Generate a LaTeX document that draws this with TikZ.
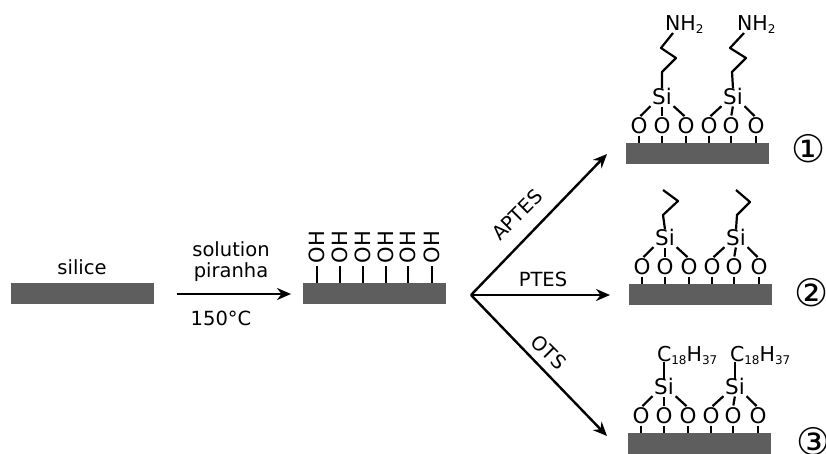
\documentclass[tikz,border=0pt]{standalone}
\usepackage{fontspec}
\usetikzlibrary{arrows.meta}
\setmainfont{DejaVu Sans}
\newcommand{\subnum}[1]{\raisebox{-3pt}{\fontsize{12}{12}\selectfont #1}}
\tikzset{
  every node/.style={inner sep=0pt,outer sep=0pt},
  slab/.style={fill=black!63,minimum width=143pt,minimum height=21pt},
  lbl/.style={font=\fontsize{19.5}{20}\selectfont},
  atom/.style={font=\fontsize{21.5}{22}\selectfont,text height=15pt,text depth=0pt,inner sep=0.5pt,outer sep=0.5pt},
  formula/.style={font=\fontsize{20.5}{21}\selectfont,anchor=west,text height=15pt,text depth=0pt},
  oh/.style={font=\fontsize{21}{21}\selectfont,rotate=90,text height=15pt,text depth=0pt},
  bond/.style={line width=2.2pt,black},
  gapped/.style={bond,shorten <=1pt,shorten >=2pt},
  reaction/.style={line width=2.4pt,-{Stealth[length=14pt,width=12pt]}},
  num/.style={font=\fontsize{38}{38}\selectfont},
}
\newcommand{\oxy}[4]{% name, x, y, slab
  \node[atom] (#1) at (#2,#3) {O};
  \draw[bond,shorten <=1pt] (#1.south) -- (#1.south |- #4.north);}
\newcommand{\silane}[7]{% id, six, siy, ox1, ox2, ox3, slab
  \node[atom] (#1s) at (#2,#3) {Si};
  \oxy{#1a}{#4}{#3+29}{#7}
  \oxy{#1b}{#5}{#3+29}{#7}
  \oxy{#1c}{#6}{#3+29}{#7}
  \draw[gapped] (#1s.south west) -- (#1a.north);
  \draw[gapped] (#1s.south) -- (#1b.north);
  \draw[gapped] (#1s.south east) -- (#1c.north);}
\newcommand{\hydroxyl}[3]{% name, x, slab
  \node[oh] (#1) at (#2,247) {OH};
  \draw[bond] (#1.west |- 0,266) -- (#1.west |- #3.north);}
\begin{document}
\begin{tikzpicture}[x=1pt,y=-1pt]
\useasboundingbox (0,0) rectangle (826,453);
% left: silica
\node[slab] (s0) at (82.5,293.5) {};
\node[lbl] (silice) at (82,267) {silice};
\node[lbl] (sol) at (231,249) {solution};
\node[lbl] (pir) at (231,272) {piranha};
\node[lbl] (temp) at (221,318) {150°C};
\coordinate (a0) at (177,294);
\coordinate (a1) at (291,294);
\draw[reaction] (a0) -- (a1);
% hydroxylated
\node[slab] (s1) at (374.5,293.5) {};
\hydroxyl{h1}{317}{s1}
\hydroxyl{h2}{340}{s1}
\hydroxyl{h3}{363}{s1}
\hydroxyl{h4}{386}{s1}
\hydroxyl{h5}{408}{s1}
\hydroxyl{h6}{432}{s1}
% branches
\coordinate (hub) at (471,295);
\coordinate (e1) at (607,154);
\coordinate (e2) at (610,295);
\coordinate (e3) at (607,436);
\draw[reaction] (hub) -- (e1);
\draw[reaction] (hub) -- (e2);
\draw[reaction] (hub) -- (e3);
\node[lbl,rotate=45] (aptes) at (517,215) {APTES};
\node[lbl] (ptes) at (543,279) {PTES};
\node[lbl,rotate=-45] (ots) at (549,352) {OTS};
% panel 1
\node[slab] (p1) at (697.5,153) {};
\silane{A}{662}{97}{639}{662}{686}{p1}
\silane{B}{733}{97}{709}{731}{756}{p1}
\node[formula] (n1) at (665,23) {NH\subnum{2}};
\node[formula] (n2) at (737,23) {NH\subnum{2}};
\coordinate (c1a) at (662,72); \coordinate (c1b) at (676,58); \coordinate (c1c) at (661,48); \coordinate (c1d) at (673,33);
\coordinate (c2a) at (732,72); \coordinate (c2b) at (746,58); \coordinate (c2c) at (730,48); \coordinate (c2d) at (744,33);
\draw[bond,line join=round] (As.north) -- (c1a) -- (c1b) -- (c1c) -- (c1d);
\draw[bond,line join=round] (Bs.north) -- (c2a) -- (c2b) -- (c2c) -- (c2d);
\node[num] (one) at (809,149) {①};
% panel 2
\node[slab] (p2) at (700.5,294.5) {};
\silane{C}{665}{238}{642}{665}{689}{p2}
\silane{D}{736}{238}{712}{734}{759}{p2}
\coordinate (c3a) at (663,215); \coordinate (c3b) at (678,201); \coordinate (c3c) at (663,190);
\coordinate (c4a) at (737,215); \coordinate (c4b) at (750,202); \coordinate (c4c) at (736,190);
\draw[bond,line join=round] (Cs.north) -- (c3a) -- (c3b) -- (c3c);
\draw[bond,line join=round] (Ds.north) -- (c4a) -- (c4b) -- (c4c);
\node[num] (two) at (812,293) {②};
% panel 3
\node[slab] (p3) at (699.5,443.5) {};
\silane{E}{664}{387}{641}{664}{688}{p3}
\silane{F}{735}{387}{711}{733}{758}{p3}
\node[formula] (f1) at (657,354) {C\subnum{18}H\subnum{37}};
\node[formula] (f2) at (730,354) {C\subnum{18}H\subnum{37}};
\draw[bond] (Es.north) -- (Es.north |- f1.south);
\draw[bond] (Fs.north) -- (Fs.north |- f2.south);
\node[num] (three) at (814,442) {③};
\end{tikzpicture}
\end{document}
